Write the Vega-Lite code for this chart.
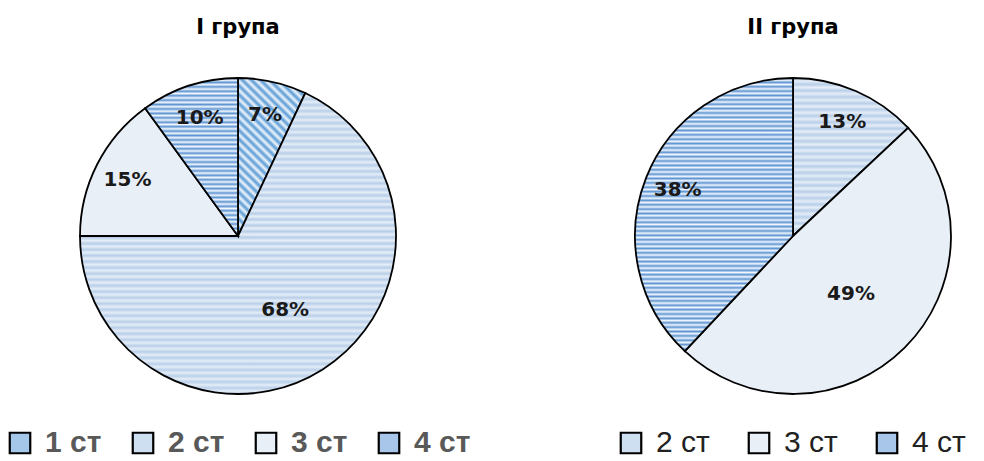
{
  "$schema": "https://vega.github.io/schema/vega-lite/v6.json",
  "background": "white",
  "padding": {"left": 5, "top": 17, "right": 5, "bottom": 5},
  "config": {"view": {"stroke": null}},
  "datasets": {
    "shares": [
      {"group": "І група", "category": "1 ст", "share": 0.07},
      {"group": "І група", "category": "2 ст", "share": 0.68},
      {"group": "І група", "category": "3 ст", "share": 0.15},
      {"group": "І група", "category": "4 ст", "share": 0.10},
      {"group": "ІІ група", "category": "2 ст", "share": 0.13},
      {"group": "ІІ група", "category": "3 ст", "share": 0.49},
      {"group": "ІІ група", "category": "4 ст", "share": 0.38}
    ]
  },
  "spacing": 145,
  "resolve": {
    "scale": {"fill": "independent", "theta": "independent"},
    "legend": {"fill": "independent"}
  },
  "hconcat": [
    {
      "width": 466,
      "height": 330,
      "title": {"text": "І група", "font": "DejaVu Sans", "fontSize": 21, "fontWeight": "bold", "color": "#000000", "offset": 33, "anchor": "middle"},
      "data": {"name": "shares"},
      "transform": [
        {"filter": "datum.group === 'І група'"},
        {"stack": "share", "groupby": [], "sort": [{"field": "category", "order": "ascending"}], "as": ["s0", "s1"]},
        {"calculate": "(datum.s0 + datum.s1) / 2", "as": "mid"}
      ],
      "layer": [
        {
          "mark": {"type": "arc", "radius": 158},
          "encoding": {
            "theta": {"field": "s0", "type": "quantitative", "stack": null, "scale": {"domain": [0, 1]}},
            "theta2": {"field": "s1"},
            "fill": {
              "field": "category", "type": "nominal",
              "scale": {"domain": ["1 ст", "2 ст", "3 ст", "4 ст"], "range": ["#a5c8ea", "#cddff1", "#e8eff7", "#a8c6e9"]},
              "legend": {"orient": "bottom", "direction": "horizontal", "title": null, "offset": 27,
                "symbolType": "square", "symbolSize": 420, "symbolStrokeColor": "#000000", "symbolStrokeWidth": 2.2,
                "labelFont": "Liberation Sans", "labelFontSize": 30, "labelFontWeight": "bold", "labelColor": "#595959",
                "labelOffset": 10, "columnPadding": 26}
            }
          }
        },
        {
          "mark": {"type": "arc", "radius": 158, "stroke": "#000000", "strokeWidth": 1.8},
          "encoding": {
            "theta": {"field": "s0", "type": "quantitative", "stack": null, "scale": {"domain": [0, 1]}},
            "theta2": {"field": "s1"},
            "fill": {
              "condition": [
                {"test": "datum.category === '1 ст'", "value": {"gradient": "linear", "x1": 0, "y1": 1, "x2": 0.5, "y2": -0.2, "stops": [
                  {"offset": 0, "color": "#5b9bd5"}, {"offset": 0.02, "color": "#eef5fc"}, {"offset": 0.04, "color": "#5b9bd5"}, {"offset": 0.06, "color": "#eef5fc"},
                  {"offset": 0.08, "color": "#5b9bd5"}, {"offset": 0.1, "color": "#eef5fc"}, {"offset": 0.12, "color": "#5b9bd5"}, {"offset": 0.14, "color": "#eef5fc"},
                  {"offset": 0.16, "color": "#5b9bd5"}, {"offset": 0.18, "color": "#eef5fc"}, {"offset": 0.2, "color": "#5b9bd5"}, {"offset": 0.22, "color": "#eef5fc"},
                  {"offset": 0.24, "color": "#5b9bd5"}, {"offset": 0.26, "color": "#eef5fc"}, {"offset": 0.28, "color": "#5b9bd5"}, {"offset": 0.3, "color": "#eef5fc"},
                  {"offset": 0.32, "color": "#5b9bd5"}, {"offset": 0.34, "color": "#eef5fc"}, {"offset": 0.36, "color": "#5b9bd5"}, {"offset": 0.38, "color": "#eef5fc"},
                  {"offset": 0.4, "color": "#5b9bd5"}, {"offset": 0.42, "color": "#eef5fc"}, {"offset": 0.44, "color": "#5b9bd5"}, {"offset": 0.46, "color": "#eef5fc"},
                  {"offset": 0.48, "color": "#5b9bd5"}, {"offset": 0.5, "color": "#eef5fc"}, {"offset": 0.52, "color": "#5b9bd5"}, {"offset": 0.54, "color": "#eef5fc"},
                  {"offset": 0.56, "color": "#5b9bd5"}, {"offset": 0.58, "color": "#eef5fc"}, {"offset": 0.6, "color": "#5b9bd5"}, {"offset": 0.62, "color": "#eef5fc"},
                  {"offset": 0.64, "color": "#5b9bd5"}, {"offset": 0.66, "color": "#eef5fc"}, {"offset": 0.68, "color": "#5b9bd5"}, {"offset": 0.7, "color": "#eef5fc"},
                  {"offset": 0.72, "color": "#5b9bd5"}, {"offset": 0.74, "color": "#eef5fc"}, {"offset": 0.76, "color": "#5b9bd5"}, {"offset": 0.78, "color": "#eef5fc"},
                  {"offset": 0.8, "color": "#5b9bd5"}, {"offset": 0.82, "color": "#eef5fc"}, {"offset": 0.84, "color": "#5b9bd5"}, {"offset": 0.86, "color": "#eef5fc"},
                  {"offset": 0.88, "color": "#5b9bd5"}, {"offset": 0.9, "color": "#eef5fc"}, {"offset": 0.92, "color": "#5b9bd5"}, {"offset": 0.94, "color": "#eef5fc"},
                  {"offset": 0.96, "color": "#5b9bd5"}, {"offset": 0.98, "color": "#eef5fc"}, {"offset": 1, "color": "#5b9bd5"}
                ]}},
                {"test": "datum.category === '2 ст'", "value": {"gradient": "linear", "x1": 0, "y1": 0, "x2": 0, "y2": 1, "stops": [
                  {"offset": 0, "color": "#b9cfe8"}, {"offset": 0.01, "color": "#e4edf8"}, {"offset": 0.02, "color": "#b9cfe8"}, {"offset": 0.03, "color": "#e4edf8"},
                  {"offset": 0.04, "color": "#b9cfe8"}, {"offset": 0.05, "color": "#e4edf8"}, {"offset": 0.06, "color": "#b9cfe8"}, {"offset": 0.07, "color": "#e4edf8"},
                  {"offset": 0.08, "color": "#b9cfe8"}, {"offset": 0.09, "color": "#e4edf8"}, {"offset": 0.1, "color": "#b9cfe8"}, {"offset": 0.11, "color": "#e4edf8"},
                  {"offset": 0.12, "color": "#b9cfe8"}, {"offset": 0.13, "color": "#e4edf8"}, {"offset": 0.14, "color": "#b9cfe8"}, {"offset": 0.15, "color": "#e4edf8"},
                  {"offset": 0.16, "color": "#b9cfe8"}, {"offset": 0.17, "color": "#e4edf8"}, {"offset": 0.18, "color": "#b9cfe8"}, {"offset": 0.19, "color": "#e4edf8"},
                  {"offset": 0.2, "color": "#b9cfe8"}, {"offset": 0.21, "color": "#e4edf8"}, {"offset": 0.22, "color": "#b9cfe8"}, {"offset": 0.23, "color": "#e4edf8"},
                  {"offset": 0.24, "color": "#b9cfe8"}, {"offset": 0.25, "color": "#e4edf8"}, {"offset": 0.26, "color": "#b9cfe8"}, {"offset": 0.27, "color": "#e4edf8"},
                  {"offset": 0.28, "color": "#b9cfe8"}, {"offset": 0.29, "color": "#e4edf8"}, {"offset": 0.3, "color": "#b9cfe8"}, {"offset": 0.31, "color": "#e4edf8"},
                  {"offset": 0.32, "color": "#b9cfe8"}, {"offset": 0.33, "color": "#e4edf8"}, {"offset": 0.34, "color": "#b9cfe8"}, {"offset": 0.35, "color": "#e4edf8"},
                  {"offset": 0.36, "color": "#b9cfe8"}, {"offset": 0.37, "color": "#e4edf8"}, {"offset": 0.38, "color": "#b9cfe8"}, {"offset": 0.39, "color": "#e4edf8"},
                  {"offset": 0.4, "color": "#b9cfe8"}, {"offset": 0.41, "color": "#e4edf8"}, {"offset": 0.42, "color": "#b9cfe8"}, {"offset": 0.43, "color": "#e4edf8"},
                  {"offset": 0.44, "color": "#b9cfe8"}, {"offset": 0.45, "color": "#e4edf8"}, {"offset": 0.46, "color": "#b9cfe8"}, {"offset": 0.47, "color": "#e4edf8"},
                  {"offset": 0.48, "color": "#b9cfe8"}, {"offset": 0.49, "color": "#e4edf8"}, {"offset": 0.5, "color": "#b9cfe8"}, {"offset": 0.51, "color": "#e4edf8"},
                  {"offset": 0.52, "color": "#b9cfe8"}, {"offset": 0.53, "color": "#e4edf8"}, {"offset": 0.54, "color": "#b9cfe8"}, {"offset": 0.55, "color": "#e4edf8"},
                  {"offset": 0.56, "color": "#b9cfe8"}, {"offset": 0.57, "color": "#e4edf8"}, {"offset": 0.58, "color": "#b9cfe8"}, {"offset": 0.59, "color": "#e4edf8"},
                  {"offset": 0.6, "color": "#b9cfe8"}, {"offset": 0.61, "color": "#e4edf8"}, {"offset": 0.62, "color": "#b9cfe8"}, {"offset": 0.63, "color": "#e4edf8"},
                  {"offset": 0.64, "color": "#b9cfe8"}, {"offset": 0.65, "color": "#e4edf8"}, {"offset": 0.66, "color": "#b9cfe8"}, {"offset": 0.67, "color": "#e4edf8"},
                  {"offset": 0.68, "color": "#b9cfe8"}, {"offset": 0.69, "color": "#e4edf8"}, {"offset": 0.7, "color": "#b9cfe8"}, {"offset": 0.71, "color": "#e4edf8"},
                  {"offset": 0.72, "color": "#b9cfe8"}, {"offset": 0.73, "color": "#e4edf8"}, {"offset": 0.74, "color": "#b9cfe8"}, {"offset": 0.75, "color": "#e4edf8"},
                  {"offset": 0.76, "color": "#b9cfe8"}, {"offset": 0.77, "color": "#e4edf8"}, {"offset": 0.78, "color": "#b9cfe8"}, {"offset": 0.79, "color": "#e4edf8"},
                  {"offset": 0.8, "color": "#b9cfe8"}, {"offset": 0.81, "color": "#e4edf8"}, {"offset": 0.82, "color": "#b9cfe8"}, {"offset": 0.83, "color": "#e4edf8"},
                  {"offset": 0.84, "color": "#b9cfe8"}, {"offset": 0.85, "color": "#e4edf8"}, {"offset": 0.86, "color": "#b9cfe8"}, {"offset": 0.87, "color": "#e4edf8"},
                  {"offset": 0.88, "color": "#b9cfe8"}, {"offset": 0.89, "color": "#e4edf8"}, {"offset": 0.9, "color": "#b9cfe8"}, {"offset": 0.91, "color": "#e4edf8"},
                  {"offset": 0.92, "color": "#b9cfe8"}, {"offset": 0.93, "color": "#e4edf8"}, {"offset": 0.94, "color": "#b9cfe8"}, {"offset": 0.95, "color": "#e4edf8"},
                  {"offset": 0.96, "color": "#b9cfe8"}, {"offset": 0.97, "color": "#e4edf8"}, {"offset": 0.98, "color": "#b9cfe8"}, {"offset": 0.99, "color": "#e4edf8"},
                  {"offset": 1, "color": "#b9cfe8"}
                ]}},
                {"test": "datum.category === '4 ст'", "value": {"gradient": "linear", "x1": 0, "y1": 0, "x2": 0, "y2": 1, "stops": [
                  {"offset": 0, "color": "#5f95d3"}, {"offset": 0.014, "color": "#f1f7fd"}, {"offset": 0.028, "color": "#5f95d3"}, {"offset": 0.042, "color": "#f1f7fd"},
                  {"offset": 0.056, "color": "#5f95d3"}, {"offset": 0.07, "color": "#f1f7fd"}, {"offset": 0.084, "color": "#5f95d3"}, {"offset": 0.098, "color": "#f1f7fd"},
                  {"offset": 0.112, "color": "#5f95d3"}, {"offset": 0.126, "color": "#f1f7fd"}, {"offset": 0.14, "color": "#5f95d3"}, {"offset": 0.154, "color": "#f1f7fd"},
                  {"offset": 0.168, "color": "#5f95d3"}, {"offset": 0.182, "color": "#f1f7fd"}, {"offset": 0.196, "color": "#5f95d3"}, {"offset": 0.21, "color": "#f1f7fd"},
                  {"offset": 0.224, "color": "#5f95d3"}, {"offset": 0.238, "color": "#f1f7fd"}, {"offset": 0.252, "color": "#5f95d3"}, {"offset": 0.266, "color": "#f1f7fd"},
                  {"offset": 0.28, "color": "#5f95d3"}, {"offset": 0.294, "color": "#f1f7fd"}, {"offset": 0.308, "color": "#5f95d3"}, {"offset": 0.322, "color": "#f1f7fd"},
                  {"offset": 0.336, "color": "#5f95d3"}, {"offset": 0.35, "color": "#f1f7fd"}, {"offset": 0.364, "color": "#5f95d3"}, {"offset": 0.378, "color": "#f1f7fd"},
                  {"offset": 0.392, "color": "#5f95d3"}, {"offset": 0.406, "color": "#f1f7fd"}, {"offset": 0.42, "color": "#5f95d3"}, {"offset": 0.434, "color": "#f1f7fd"},
                  {"offset": 0.448, "color": "#5f95d3"}, {"offset": 0.462, "color": "#f1f7fd"}, {"offset": 0.476, "color": "#5f95d3"}, {"offset": 0.49, "color": "#f1f7fd"},
                  {"offset": 0.504, "color": "#5f95d3"}, {"offset": 0.518, "color": "#f1f7fd"}, {"offset": 0.532, "color": "#5f95d3"}, {"offset": 0.546, "color": "#f1f7fd"},
                  {"offset": 0.56, "color": "#5f95d3"}, {"offset": 0.574, "color": "#f1f7fd"}, {"offset": 0.588, "color": "#5f95d3"}, {"offset": 0.602, "color": "#f1f7fd"},
                  {"offset": 0.616, "color": "#5f95d3"}, {"offset": 0.63, "color": "#f1f7fd"}, {"offset": 0.644, "color": "#5f95d3"}, {"offset": 0.658, "color": "#f1f7fd"},
                  {"offset": 0.672, "color": "#5f95d3"}, {"offset": 0.686, "color": "#f1f7fd"}, {"offset": 0.7, "color": "#5f95d3"}, {"offset": 0.714, "color": "#f1f7fd"},
                  {"offset": 0.728, "color": "#5f95d3"}, {"offset": 0.742, "color": "#f1f7fd"}, {"offset": 0.756, "color": "#5f95d3"}, {"offset": 0.77, "color": "#f1f7fd"},
                  {"offset": 0.784, "color": "#5f95d3"}, {"offset": 0.798, "color": "#f1f7fd"}, {"offset": 0.812, "color": "#5f95d3"}, {"offset": 0.826, "color": "#f1f7fd"},
                  {"offset": 0.84, "color": "#5f95d3"}, {"offset": 0.854, "color": "#f1f7fd"}, {"offset": 0.868, "color": "#5f95d3"}, {"offset": 0.882, "color": "#f1f7fd"},
                  {"offset": 0.896, "color": "#5f95d3"}, {"offset": 0.91, "color": "#f1f7fd"}, {"offset": 0.924, "color": "#5f95d3"}, {"offset": 0.938, "color": "#f1f7fd"},
                  {"offset": 0.952, "color": "#5f95d3"}, {"offset": 0.966, "color": "#f1f7fd"}, {"offset": 0.98, "color": "#5f95d3"}, {"offset": 0.994, "color": "#f1f7fd"},
                  {"offset": 1, "color": "#f1f7fd"}
                ]}}
              ],
              "value": "#e8eff7"
            }
          }
        },
        {
          "transform": [{"filter": "datum.share < 0.4"}],
          "mark": {"type": "text", "radius": 124, "font": "DejaVu Sans", "fontSize": 20, "fontWeight": "bold", "color": "#1a1a1a"},
          "encoding": {
            "theta": {"field": "mid", "type": "quantitative", "stack": null, "scale": {"domain": [0, 1]}},
            "text": {"field": "share", "type": "quantitative", "format": ".0%"}
          }
        },
        {
          "transform": [{"filter": "datum.share >= 0.4"}],
          "mark": {"type": "text", "radius": 88, "font": "DejaVu Sans", "fontSize": 20, "fontWeight": "bold", "color": "#1a1a1a"},
          "encoding": {
            "theta": {"field": "mid", "type": "quantitative", "stack": null, "scale": {"domain": [0, 1]}},
            "text": {"field": "share", "type": "quantitative", "format": ".0%"}
          }
        }
      ]
    },
    {
      "width": 354,
      "height": 330,
      "title": {"text": "ІІ група", "font": "DejaVu Sans", "fontSize": 21, "fontWeight": "bold", "color": "#000000", "offset": 33, "anchor": "middle"},
      "data": {"name": "shares"},
      "transform": [
        {"filter": "datum.group === 'ІІ група'"},
        {"stack": "share", "groupby": [], "sort": [{"field": "category", "order": "ascending"}], "as": ["s0", "s1"]},
        {"calculate": "(datum.s0 + datum.s1) / 2", "as": "mid"}
      ],
      "layer": [
        {
          "mark": {"type": "arc", "radius": 158},
          "encoding": {
            "theta": {"field": "s0", "type": "quantitative", "stack": null, "scale": {"domain": [0, 1]}},
            "theta2": {"field": "s1"},
            "fill": {
              "field": "category", "type": "nominal",
              "scale": {"domain": ["2 ст", "3 ст", "4 ст"], "range": ["#cddff1", "#e8eff7", "#a8c6e9"]},
              "legend": {"orient": "bottom", "direction": "horizontal", "title": null, "offset": 27,
                "symbolType": "square", "symbolSize": 420, "symbolStrokeColor": "#000000", "symbolStrokeWidth": 2.2,
                "labelFont": "Liberation Sans", "labelFontSize": 30, "labelColor": "#222222",
                "labelOffset": 10, "columnPadding": 34}
            }
          }
        },
        {
          "mark": {"type": "arc", "radius": 158, "stroke": "#000000", "strokeWidth": 1.8},
          "encoding": {
            "theta": {"field": "s0", "type": "quantitative", "stack": null, "scale": {"domain": [0, 1]}},
            "theta2": {"field": "s1"},
            "fill": {
              "condition": [
                {"test": "datum.category === '2 ст'", "value": {"gradient": "linear", "x1": 0, "y1": 0, "x2": 0, "y2": 1, "stops": [
                  {"offset": 0, "color": "#b9cfe8"}, {"offset": 0.02, "color": "#e4edf8"}, {"offset": 0.04, "color": "#b9cfe8"}, {"offset": 0.06, "color": "#e4edf8"},
                  {"offset": 0.08, "color": "#b9cfe8"}, {"offset": 0.1, "color": "#e4edf8"}, {"offset": 0.12, "color": "#b9cfe8"}, {"offset": 0.14, "color": "#e4edf8"},
                  {"offset": 0.16, "color": "#b9cfe8"}, {"offset": 0.18, "color": "#e4edf8"}, {"offset": 0.2, "color": "#b9cfe8"}, {"offset": 0.22, "color": "#e4edf8"},
                  {"offset": 0.24, "color": "#b9cfe8"}, {"offset": 0.26, "color": "#e4edf8"}, {"offset": 0.28, "color": "#b9cfe8"}, {"offset": 0.3, "color": "#e4edf8"},
                  {"offset": 0.32, "color": "#b9cfe8"}, {"offset": 0.34, "color": "#e4edf8"}, {"offset": 0.36, "color": "#b9cfe8"}, {"offset": 0.38, "color": "#e4edf8"},
                  {"offset": 0.4, "color": "#b9cfe8"}, {"offset": 0.42, "color": "#e4edf8"}, {"offset": 0.44, "color": "#b9cfe8"}, {"offset": 0.46, "color": "#e4edf8"},
                  {"offset": 0.48, "color": "#b9cfe8"}, {"offset": 0.5, "color": "#e4edf8"}, {"offset": 0.52, "color": "#b9cfe8"}, {"offset": 0.54, "color": "#e4edf8"},
                  {"offset": 0.56, "color": "#b9cfe8"}, {"offset": 0.58, "color": "#e4edf8"}, {"offset": 0.6, "color": "#b9cfe8"}, {"offset": 0.62, "color": "#e4edf8"},
                  {"offset": 0.64, "color": "#b9cfe8"}, {"offset": 0.66, "color": "#e4edf8"}, {"offset": 0.68, "color": "#b9cfe8"}, {"offset": 0.7, "color": "#e4edf8"},
                  {"offset": 0.72, "color": "#b9cfe8"}, {"offset": 0.74, "color": "#e4edf8"}, {"offset": 0.76, "color": "#b9cfe8"}, {"offset": 0.78, "color": "#e4edf8"},
                  {"offset": 0.8, "color": "#b9cfe8"}, {"offset": 0.82, "color": "#e4edf8"}, {"offset": 0.84, "color": "#b9cfe8"}, {"offset": 0.86, "color": "#e4edf8"},
                  {"offset": 0.88, "color": "#b9cfe8"}, {"offset": 0.9, "color": "#e4edf8"}, {"offset": 0.92, "color": "#b9cfe8"}, {"offset": 0.94, "color": "#e4edf8"},
                  {"offset": 0.96, "color": "#b9cfe8"}, {"offset": 0.98, "color": "#e4edf8"}, {"offset": 1, "color": "#b9cfe8"}
                ]}},
                {"test": "datum.category === '4 ст'", "value": {"gradient": "linear", "x1": 0, "y1": 0, "x2": 0, "y2": 1, "stops": [
                  {"offset": 0, "color": "#5f95d3"}, {"offset": 0.008, "color": "#f1f7fd"}, {"offset": 0.016, "color": "#5f95d3"}, {"offset": 0.024, "color": "#f1f7fd"},
                  {"offset": 0.032, "color": "#5f95d3"}, {"offset": 0.04, "color": "#f1f7fd"}, {"offset": 0.048, "color": "#5f95d3"}, {"offset": 0.056, "color": "#f1f7fd"},
                  {"offset": 0.064, "color": "#5f95d3"}, {"offset": 0.072, "color": "#f1f7fd"}, {"offset": 0.08, "color": "#5f95d3"}, {"offset": 0.088, "color": "#f1f7fd"},
                  {"offset": 0.096, "color": "#5f95d3"}, {"offset": 0.104, "color": "#f1f7fd"}, {"offset": 0.112, "color": "#5f95d3"}, {"offset": 0.12, "color": "#f1f7fd"},
                  {"offset": 0.128, "color": "#5f95d3"}, {"offset": 0.136, "color": "#f1f7fd"}, {"offset": 0.144, "color": "#5f95d3"}, {"offset": 0.152, "color": "#f1f7fd"},
                  {"offset": 0.16, "color": "#5f95d3"}, {"offset": 0.168, "color": "#f1f7fd"}, {"offset": 0.176, "color": "#5f95d3"}, {"offset": 0.184, "color": "#f1f7fd"},
                  {"offset": 0.192, "color": "#5f95d3"}, {"offset": 0.2, "color": "#f1f7fd"}, {"offset": 0.208, "color": "#5f95d3"}, {"offset": 0.216, "color": "#f1f7fd"},
                  {"offset": 0.224, "color": "#5f95d3"}, {"offset": 0.232, "color": "#f1f7fd"}, {"offset": 0.24, "color": "#5f95d3"}, {"offset": 0.248, "color": "#f1f7fd"},
                  {"offset": 0.256, "color": "#5f95d3"}, {"offset": 0.264, "color": "#f1f7fd"}, {"offset": 0.272, "color": "#5f95d3"}, {"offset": 0.28, "color": "#f1f7fd"},
                  {"offset": 0.288, "color": "#5f95d3"}, {"offset": 0.296, "color": "#f1f7fd"}, {"offset": 0.304, "color": "#5f95d3"}, {"offset": 0.312, "color": "#f1f7fd"},
                  {"offset": 0.32, "color": "#5f95d3"}, {"offset": 0.328, "color": "#f1f7fd"}, {"offset": 0.336, "color": "#5f95d3"}, {"offset": 0.344, "color": "#f1f7fd"},
                  {"offset": 0.352, "color": "#5f95d3"}, {"offset": 0.36, "color": "#f1f7fd"}, {"offset": 0.368, "color": "#5f95d3"}, {"offset": 0.376, "color": "#f1f7fd"},
                  {"offset": 0.384, "color": "#5f95d3"}, {"offset": 0.392, "color": "#f1f7fd"}, {"offset": 0.4, "color": "#5f95d3"}, {"offset": 0.408, "color": "#f1f7fd"},
                  {"offset": 0.416, "color": "#5f95d3"}, {"offset": 0.424, "color": "#f1f7fd"}, {"offset": 0.432, "color": "#5f95d3"}, {"offset": 0.44, "color": "#f1f7fd"},
                  {"offset": 0.448, "color": "#5f95d3"}, {"offset": 0.456, "color": "#f1f7fd"}, {"offset": 0.464, "color": "#5f95d3"}, {"offset": 0.472, "color": "#f1f7fd"},
                  {"offset": 0.48, "color": "#5f95d3"}, {"offset": 0.488, "color": "#f1f7fd"}, {"offset": 0.496, "color": "#5f95d3"}, {"offset": 0.504, "color": "#f1f7fd"},
                  {"offset": 0.512, "color": "#5f95d3"}, {"offset": 0.52, "color": "#f1f7fd"}, {"offset": 0.528, "color": "#5f95d3"}, {"offset": 0.536, "color": "#f1f7fd"},
                  {"offset": 0.544, "color": "#5f95d3"}, {"offset": 0.552, "color": "#f1f7fd"}, {"offset": 0.56, "color": "#5f95d3"}, {"offset": 0.568, "color": "#f1f7fd"},
                  {"offset": 0.576, "color": "#5f95d3"}, {"offset": 0.584, "color": "#f1f7fd"}, {"offset": 0.592, "color": "#5f95d3"}, {"offset": 0.6, "color": "#f1f7fd"},
                  {"offset": 0.608, "color": "#5f95d3"}, {"offset": 0.616, "color": "#f1f7fd"}, {"offset": 0.624, "color": "#5f95d3"}, {"offset": 0.632, "color": "#f1f7fd"},
                  {"offset": 0.64, "color": "#5f95d3"}, {"offset": 0.648, "color": "#f1f7fd"}, {"offset": 0.656, "color": "#5f95d3"}, {"offset": 0.664, "color": "#f1f7fd"},
                  {"offset": 0.672, "color": "#5f95d3"}, {"offset": 0.68, "color": "#f1f7fd"}, {"offset": 0.688, "color": "#5f95d3"}, {"offset": 0.696, "color": "#f1f7fd"},
                  {"offset": 0.704, "color": "#5f95d3"}, {"offset": 0.712, "color": "#f1f7fd"}, {"offset": 0.72, "color": "#5f95d3"}, {"offset": 0.728, "color": "#f1f7fd"},
                  {"offset": 0.736, "color": "#5f95d3"}, {"offset": 0.744, "color": "#f1f7fd"}, {"offset": 0.752, "color": "#5f95d3"}, {"offset": 0.76, "color": "#f1f7fd"},
                  {"offset": 0.768, "color": "#5f95d3"}, {"offset": 0.776, "color": "#f1f7fd"}, {"offset": 0.784, "color": "#5f95d3"}, {"offset": 0.792, "color": "#f1f7fd"},
                  {"offset": 0.8, "color": "#5f95d3"}, {"offset": 0.808, "color": "#f1f7fd"}, {"offset": 0.816, "color": "#5f95d3"}, {"offset": 0.824, "color": "#f1f7fd"},
                  {"offset": 0.832, "color": "#5f95d3"}, {"offset": 0.84, "color": "#f1f7fd"}, {"offset": 0.848, "color": "#5f95d3"}, {"offset": 0.856, "color": "#f1f7fd"},
                  {"offset": 0.864, "color": "#5f95d3"}, {"offset": 0.872, "color": "#f1f7fd"}, {"offset": 0.88, "color": "#5f95d3"}, {"offset": 0.888, "color": "#f1f7fd"},
                  {"offset": 0.896, "color": "#5f95d3"}, {"offset": 0.904, "color": "#f1f7fd"}, {"offset": 0.912, "color": "#5f95d3"}, {"offset": 0.92, "color": "#f1f7fd"},
                  {"offset": 0.928, "color": "#5f95d3"}, {"offset": 0.936, "color": "#f1f7fd"}, {"offset": 0.944, "color": "#5f95d3"}, {"offset": 0.952, "color": "#f1f7fd"},
                  {"offset": 0.96, "color": "#5f95d3"}, {"offset": 0.968, "color": "#f1f7fd"}, {"offset": 0.976, "color": "#5f95d3"}, {"offset": 0.984, "color": "#f1f7fd"},
                  {"offset": 0.992, "color": "#5f95d3"}, {"offset": 1, "color": "#f1f7fd"}
                ]}}
              ],
              "value": "#e8eff7"
            }
          }
        },
        {
          "transform": [{"filter": "datum.share < 0.4"}],
          "mark": {"type": "text", "radius": 124, "font": "DejaVu Sans", "fontSize": 20, "fontWeight": "bold", "color": "#1a1a1a"},
          "encoding": {
            "theta": {"field": "mid", "type": "quantitative", "stack": null, "scale": {"domain": [0, 1]}},
            "text": {"field": "share", "type": "quantitative", "format": ".0%"}
          }
        },
        {
          "transform": [{"filter": "datum.share >= 0.4"}],
          "mark": {"type": "text", "radius": 82, "font": "DejaVu Sans", "fontSize": 20, "fontWeight": "bold", "color": "#1a1a1a"},
          "encoding": {
            "theta": {"field": "mid", "type": "quantitative", "stack": null, "scale": {"domain": [0, 1]}},
            "text": {"field": "share", "type": "quantitative", "format": ".0%"}
          }
        }
      ]
    }
  ]
}
